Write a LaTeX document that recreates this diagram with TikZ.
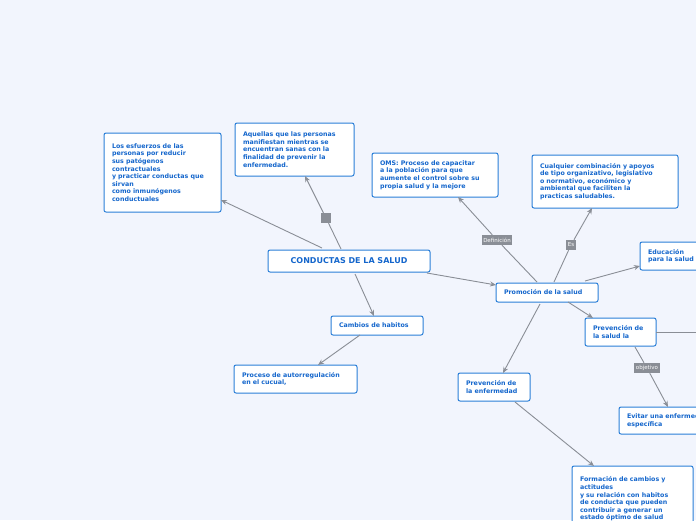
\documentclass[tikz,border=0pt]{standalone}
\usepackage{fontspec}
\setmainfont{DejaVu Sans}
\usetikzlibrary{arrows.meta}
\definecolor{bg}{HTML}{F2F5FD}
\definecolor{bl}{HTML}{2A7FD8}
\definecolor{tx}{HTML}{1466CC}
\definecolor{ln}{HTML}{8A8E96}
\begin{document}
\begin{tikzpicture}[x=1pt,y=-1pt,
 box/.style={draw=bl,line width=1pt,fill=white,rounded corners=2pt,font=\fontsize{6.3}{7.6}\selectfont\bfseries,text=tx,align=left,inner sep=0pt,drop shadow/.style={}},
 lbl/.style={fill=ln,text=white,font=\fontsize{5.5}{6}\selectfont,inner sep=1.5pt,minimum height=10pt},
 con/.style={draw=ln,line width=0.9pt},
 arr/.style={con,-{Stealth[length=6pt,width=5pt]}}]
\useasboundingbox (0,0) rectangle (696,520);
\fill[bg] (0,0) rectangle (696,520);
\newcommand{\bx}[6]{\node[box,minimum width=#4-#2,minimum height=#5-#3,text width=#4-#2-16] (#1) at ({(#2+#4)/2},{(#3+#5)/2}) {#6};}
\bx{main}{268}{250}{430}{272}{}
\node[font=\fontsize{8}{9}\selectfont\bfseries,text=tx] at (main) {CONDUCTAS DE LA SALUD};
\bx{esf}{104}{133}{221}{212}{Los esfuerzos de las\\personas por reducir\\sus patógenos\\contractuales\\y practicar conductas que\\sirvan\\como inmunógenos\\conductuales}
\bx{aqu}{235}{123}{354}{176}{Aquellas que las personas\\manifiestan mientras se\\encuentran sanas con la\\finalidad de prevenir la\\enfermedad.}
\bx{oms}{372}{153}{498}{197}{OMS: Proceso de capacitar\\a la población para que\\aumente el control sobre su\\propia salud y la mejore}
\bx{cua}{532}{155}{678}{208}{Cualquier combinación y apoyos\\de tipo organizativo, legislativo\\o normativo, económico y\\ambiental que faciliten la\\practicas saludables.}
\bx{edu}{640}{242}{722}{270}{Educación\\para la salud}
\bx{pro}{496}{283}{598}{302}{Promoción de la salud}
\bx{pvs}{585}{318}{656}{346}{Prevención de\\la salud la}
\bx{cam}{331}{316}{423}{335}{Cambios de habitos}
\bx{auto}{234}{365}{357}{393}{Proceso de autorregulación\\en el cucual,}
\bx{pve}{458}{373}{530}{401}{Prevención de\\la enfermedad}
\bx{evi}{619}{407}{730}{434}{Evitar una enfermedad\\específica}
\bx{for}{572}{466}{693}{532}{Formación de cambios y\\actitudes\\y su relación con habitos\\de conducta que pueden\\contribuir a generar un\\estado óptimo de salud}
\node[fill=ln,minimum size=10pt,inner sep=0pt] (sq) at (326,218) {};
\node[lbl] (def) at (497,240) {Definición};
\node[lbl] (es) at (571,245) {Es};
\node[lbl] (obj) at (647,368) {objetivo};
\coordinate (r) at (700,332);
\draw[arr] (322,248) -- (221,200);
\draw[con] (341,249) -- (sq);
\draw[arr] (sq) -- (305,176);
\draw[arr] (427,273) -- (496,285);
\draw[arr] (355,274) -- (374,316);
\draw[arr] (360,335) -- (318,365);
\draw[con] (537,282) -- (def);
\draw[arr] (def) -- (458,197);
\draw[con] (554,282) -- (es);
\draw[arr] (es) -- (592,208);
\draw[arr] (585,281) -- (640,266);
\draw[arr] (568,302) -- (593,318);
\draw[arr] (540,304) -- (503,373);
\draw[con] (635,347) -- (obj);
\draw[arr] (obj) -- (668,407);
\draw[arr] (515,402) -- (594,466);
\draw[con] (656,332) -- (r);
\end{tikzpicture}
\end{document}
